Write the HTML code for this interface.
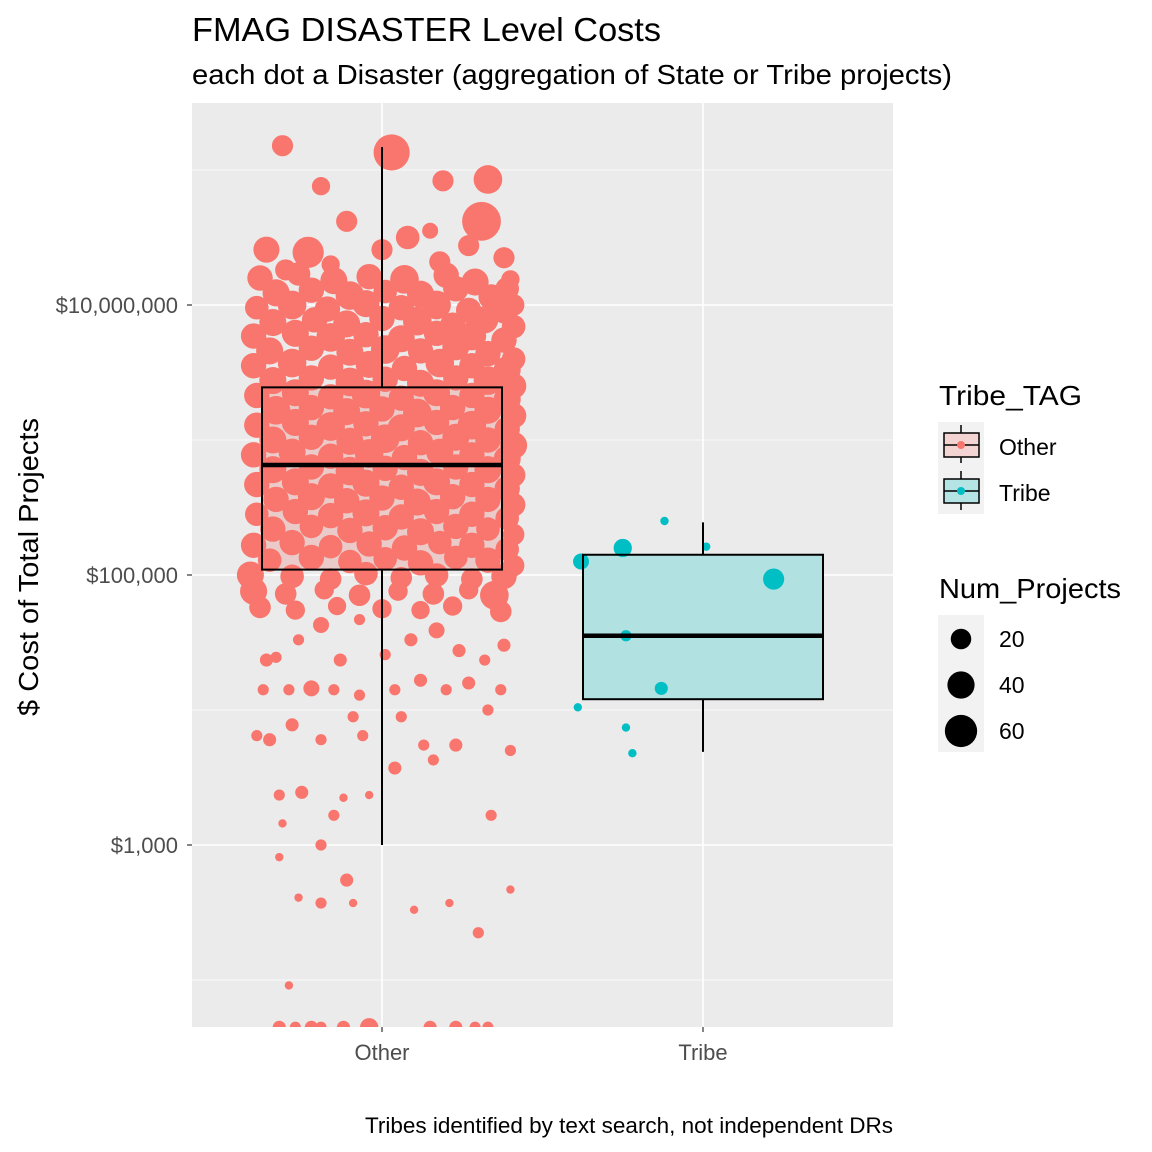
<!DOCTYPE html>
<html><head><meta charset="utf-8"><style>
html,body{margin:0;padding:0;background:#fff;width:1152px;height:1152px;overflow:hidden}
svg text{font-family:"Liberation Sans",Arial,sans-serif}
</style></head><body>
<svg id="chart" width="1152" height="1152" xmlns="http://www.w3.org/2000/svg">
<rect width="1152" height="1152" fill="#fff"/>
<text x="192" y="41" font-size="33" textLength="469" lengthAdjust="spacingAndGlyphs" fill="#000">FMAG DISASTER Level Costs</text>
<text x="192" y="84" font-size="28" textLength="760" lengthAdjust="spacingAndGlyphs" fill="#000">each dot a Disaster (aggregation of State or Tribe projects)</text>
<text transform="translate(38,567) rotate(-90)" text-anchor="middle" font-size="28" textLength="298" lengthAdjust="spacingAndGlyphs" fill="#000">$ Cost of Total Projects</text>
<text x="893" y="1133" text-anchor="end" font-size="22" textLength="528" lengthAdjust="spacingAndGlyphs" fill="#000">Tribes identified by text search, not independent DRs</text>
<defs><clipPath id="pclip"><rect x="192" y="103" width="701" height="924"/></clipPath></defs>
<g id="panel" clip-path="url(#pclip)"></g>
<g id="axes"></g>
<g id="legend">
<text x="939" y="405" font-size="28" textLength="143" lengthAdjust="spacingAndGlyphs">Tribe_TAG</text>
<rect x="938" y="422" width="46" height="92" fill="#f2f2f2"/>
<g>
<line x1="961" y1="425" x2="961" y2="433" stroke="#000" stroke-width="1.5"/><line x1="961" y1="457" x2="961" y2="463" stroke="#000" stroke-width="1.5"/>
<rect x="944" y="433" width="35" height="24" fill="#f4d4d2" stroke="#000" stroke-width="1.5"/><line x1="944" y1="445" x2="979" y2="445" stroke="#000" stroke-width="1.5"/>
<circle cx="961" cy="445" r="4" fill="#F8766D"/>
<text x="999" y="455" font-size="23">Other</text></g>
<g>
<line x1="961" y1="471" x2="961" y2="479" stroke="#000" stroke-width="1.5"/><line x1="961" y1="503" x2="961" y2="510" stroke="#000" stroke-width="1.5"/>
<rect x="944" y="479" width="35" height="24" fill="#b4e4e4" stroke="#000" stroke-width="1.5"/><line x1="944" y1="491" x2="979" y2="491" stroke="#000" stroke-width="1.5"/>
<circle cx="961" cy="491" r="4" fill="#00BFC4"/>
<text x="999" y="501" font-size="23">Tribe</text></g>
<text x="939" y="598" font-size="28" textLength="182" lengthAdjust="spacingAndGlyphs">Num_Projects</text>
<rect x="938" y="615" width="46" height="137" fill="#f2f2f2"/>
<g id="sizeLegend"></g>
</g>
</svg>
<script>
const categories = ["Other","Tribe"];
const yTickValues = [1000, 100000, 10000000];
const yTickLabels = ["$1,000","$100,000","$10,000,000"];
const yMinorLogs = [2,4,6,8];
const boxQ1 = [5.04, 4.08];
const boxMedian = [5.815, 4.55];
const boxQ3 = [6.39, 5.15];
const whiskerLo = [3.0, 3.69];
const whiskerHi = [8.17, 5.39];
const sizeLegendValues = [20,40,60];
// [jitter, log10(cost), num_projects]
const otherPoints = [
[-0.31,8.18,19],[0.03,8.13,69],[-0.19,7.88,13],[0.19,7.92,19],[0.33,7.93,40],[0.31,7.62,81],[-0.11,7.62,19],
[-0.36,7.41,32],[-0.23,7.39,49],[0.0,7.41,19],[0.08,7.50,25],[0.15,7.55,9],[0.27,7.44,19],[0.40,7.19,13],
[-0.30,7.26,19],[-0.16,7.30,13],[0.18,7.32,19],[0.38,7.35,19],
[-0.38,7.20,30],[-0.26,7.23,25],[-0.15,7.18,35],[-0.04,7.21,30],[0.07,7.19,40],[0.2,7.22,30],[0.29,7.17,35],[0.39,7.12,25],
[-0.33,7.09,35],[-0.22,7.11,30],[-0.1,7.07,40],[0.01,7.10,25],[0.12,7.08,35],[0.23,7.12,30],[0.34,7.06,30],[0.41,7.0,20],
[-0.39,6.98,25],[-0.28,7.0,40],[-0.17,6.97,30],[-0.05,7.01,35],[0.06,6.98,30],[0.17,7.0,40],[0.27,6.96,30],[0.38,6.95,25],
[-0.34,6.87,35],[-0.21,6.89,30],[-0.11,6.86,35],[0.0,6.90,30],[0.11,6.88,40],[0.22,6.85,30],[0.32,6.89,35],[0.41,6.84,25],
[-0.4,6.77,30],[-0.27,6.79,35],[-0.16,6.76,40],[-0.05,6.78,30],[0.06,6.75,35],[0.17,6.79,30],[0.28,6.77,40],[0.38,6.74,30],
[-0.35,6.66,35],[-0.22,6.68,30],[-0.1,6.65,35],[0.01,6.67,40],[0.12,6.66,30],[0.23,6.69,35],[0.33,6.64,30],[0.41,6.60,25],
[-0.4,6.55,30],[-0.28,6.57,40],[-0.16,6.54,30],[-0.04,6.56,35],[0.07,6.53,30],[0.18,6.57,40],[0.28,6.55,30],[0.39,6.52,35],
[-0.34,6.44,35],[-0.22,6.46,30],[-0.1,6.43,40],[0.01,6.45,30],[0.12,6.42,35],[0.23,6.46,30],[0.33,6.44,40],[0.41,6.40,30],
[-0.39,6.33,30],[-0.27,6.35,35],[-0.16,6.32,30],[-0.05,6.34,40],[0.06,6.31,30],[0.17,6.35,35],[0.28,6.33,30],[0.39,6.30,35],
[-0.33,6.22,40],[-0.22,6.24,30],[-0.11,6.21,35],[0.0,6.23,30],[0.11,6.20,40],[0.22,6.24,30],[0.33,6.22,35],[0.41,6.18,30],
[-0.39,6.11,30],[-0.27,6.13,35],[-0.16,6.10,40],[-0.05,6.12,30],[0.06,6.09,35],[0.17,6.13,30],[0.28,6.11,40],[0.39,6.08,30],
[-0.34,6.00,35],[-0.22,6.02,30],[-0.1,5.99,35],[0.01,6.01,40],[0.12,5.98,30],[0.23,6.02,35],[0.33,6.00,30],[0.41,5.96,35],
[-0.4,5.89,30],[-0.28,5.91,35],[-0.16,5.88,30],[-0.04,5.90,40],[0.07,5.87,30],[0.18,5.91,35],[0.28,5.89,30],[0.39,5.86,35],
[-0.34,5.78,35],[-0.22,5.80,30],[-0.1,5.77,40],[0.01,5.79,30],[0.12,5.76,35],[0.23,5.80,30],[0.33,5.78,35],[0.41,5.74,25],
[-0.39,5.67,30],[-0.27,5.69,35],[-0.16,5.66,30],[-0.05,5.68,35],[0.06,5.65,30],[0.17,5.69,35],[0.28,5.67,30],[0.39,5.64,30],
[-0.33,5.56,30],[-0.22,5.58,35],[-0.11,5.55,30],[0.0,5.57,30],[0.11,5.54,35],[0.22,5.58,30],[0.33,5.56,30],[0.41,5.52,25],
[-0.39,5.45,25],[-0.27,5.47,30],[-0.16,5.44,30],[-0.05,5.46,35],[0.06,5.43,30],[0.17,5.47,30],[0.28,5.45,30],[0.39,5.42,25],
[-0.34,5.34,30],[-0.22,5.36,25],[-0.1,5.33,30],[0.01,5.35,30],[0.12,5.32,35],[0.23,5.36,30],[0.33,5.34,25],[0.41,5.30,20],
[-0.4,5.22,30],[-0.28,5.24,30],[-0.16,5.21,25],[-0.04,5.23,30],[0.07,5.20,30],[0.18,5.24,25],[0.28,5.22,30],[0.39,5.19,25],
[-0.35,5.11,25],[-0.22,5.13,30],[-0.1,5.10,25],[0.01,5.12,25],[0.12,5.09,30],[0.23,5.13,25],[0.33,5.11,30],[0.41,5.07,20],
[-0.41,5.00,35],[-0.28,4.99,25],[-0.16,4.97,20],[-0.05,5.01,25],[0.06,4.98,20],[0.17,5.00,25],[0.28,4.97,20],[0.38,4.99,30],
[-0.4,4.88,35],[-0.3,4.86,20],[-0.18,4.89,15],[-0.07,4.85,20],[0.05,4.88,15],[0.16,4.86,20],[0.27,4.89,15],[0.35,4.85,40],
[-0.38,4.76,20],[-0.27,4.74,15],[-0.14,4.77,13],[0.0,4.75,15],[0.12,4.74,13],[0.22,4.77,15],[0.37,4.73,20],
[-0.36,4.37,5],[-0.33,4.39,3],[-0.26,4.52,3],[-0.19,4.63,9],[-0.13,4.37,5],[-0.07,4.67,3],[0.01,4.41,3],[0.09,4.52,5],
[0.17,4.59,9],[0.24,4.44,5],[0.32,4.37,3],[0.38,4.48,5],[-0.37,4.15,3],[-0.29,4.15,3],[-0.22,4.16,9],[-0.15,4.15,3],
[-0.07,4.11,3],[0.04,4.15,3],[0.12,4.22,5],[0.20,4.15,3],[0.27,4.20,5],[0.37,4.15,3],[-0.39,3.81,3],[-0.35,3.78,5],
[-0.28,3.89,5],[-0.19,3.78,3],[-0.09,3.95,3],[-0.06,3.81,3],[0.06,3.95,3],[0.13,3.74,3],[0.23,3.74,5],[0.33,4.0,3],
[0.40,3.70,3],[0.04,3.57,5],[0.16,3.63,3],[-0.32,3.37,3],[-0.25,3.39,5],[-0.12,3.35,1],[-0.04,3.37,1],[0.34,3.22,3],
[-0.31,3.16,1],[-0.15,3.22,3],[-0.19,3.0,3],[-0.32,2.91,1],[-0.11,2.74,5],[-0.26,2.61,1],[-0.19,2.57,3],[-0.09,2.57,1],
[0.10,2.52,1],[0.21,2.57,1],[0.30,2.35,3],[0.40,2.67,1],[-0.29,1.96,1],
[-0.32,1.65,5],[-0.27,1.65,3],[-0.22,1.65,5],[-0.19,1.65,3],[-0.12,1.65,5],[-0.04,1.65,13],[0.15,1.65,5],[0.23,1.65,5],[0.29,1.65,3],[0.33,1.65,3]
];
const tribePoints = [
[-0.12,5.40,1],[-0.25,5.20,13],[-0.38,5.10,9],[0.01,5.21,1],[0.22,4.97,19],[-0.24,4.55,3],[-0.13,4.16,5],[-0.39,4.02,1],[-0.24,3.87,1],[-0.22,3.68,1]
];

const NS = "http://www.w3.org/2000/svg";
const P = {l:192, r:893, t:103, b:1027};
const yScale = lg => 305 + (7 - lg) * 135;
const xScale = i => 382 + i * 321;
const xJit = (i, j) => xScale(i) + j * 321;
const rScale = n => 2.3 + 1.9 * Math.sqrt(n);
const catColors = ["#F8766D", "#00BFC4"];
const boxFill = ["#ebcbc9", "#b2e1e2"];
function mk(tag, attrs, parent) {
  const e = document.createElementNS(NS, tag);
  for (const k in attrs) e.setAttribute(k, attrs[k]);
  parent.appendChild(e);
  return e;
}
const panel = document.getElementById('panel');
const axes = document.getElementById('axes');
const bg = mk('rect', {x:P.l, y:P.t, width:P.r-P.l, height:P.b-P.t, fill:'#ebebeb'}, panel);


yMinorLogs.forEach(lg => {
  const l = mk('line', {x1:P.l, x2:P.r, y1:yScale(lg), y2:yScale(lg), stroke:'#fff', 'stroke-width':0.8}, panel);
  
  
});
yTickValues.forEach((v, k) => {
  const y = yScale(Math.log10(v));
  const l = mk('line', {x1:P.l, x2:P.r, y1:y, y2:y, stroke:'#fff', 'stroke-width':1.6}, panel);
  
  
  const t = mk('line', {x1:P.l-5, x2:P.l, y1:y, y2:y, stroke:'#333', 'stroke-width':1.2}, axes);
  
  
  const tx = mk('text', {x:P.l-14, y:y+8, 'text-anchor':'end', 'font-size':22, fill:'#4d4d4d'}, axes);
  tx.textContent = yTickLabels[k];
  
  
});
categories.forEach((c, i) => {
  const x = xScale(i);
  const l = mk('line', {x1:x, x2:x, y1:P.t, y2:P.b, stroke:'#fff', 'stroke-width':1.6}, panel);
  
  
  const t = mk('line', {x1:x, x2:x, y1:P.b, y2:P.b+5, stroke:'#333', 'stroke-width':1.2}, axes);
  
  
  const tx = mk('text', {x:x, y:P.b+33, 'text-anchor':'middle', 'font-size':22, fill:'#4d4d4d'}, axes);
  tx.textContent = c;
  
  
});
const half = 120;
categories.forEach((c, i) => {
  const x = xScale(i);
  const f = mk('rect', {x:x-half, y:yScale(boxQ3[i]), width:2*half, height:yScale(boxQ1[i])-yScale(boxQ3[i]), fill:boxFill[i]}, panel);
  
  
});
[otherPoints, tribePoints].forEach((pts, i) => {
  pts.forEach(p => {
    const ci = mk('circle', {cx:xJit(i, p[0]), cy:yScale(p[1]), r:rScale(p[2]), fill:catColors[i]}, panel);
    
    
  });
});
categories.forEach((c, i) => {
  const x = xScale(i);
  const g = mk('g', {}, panel);
  
  
  mk('line', {x1:x, x2:x, y1:yScale(whiskerHi[i]), y2:yScale(boxQ3[i]), stroke:'#000', 'stroke-width':2}, g);
  mk('line', {x1:x, x2:x, y1:yScale(boxQ1[i]), y2:yScale(whiskerLo[i]), stroke:'#000', 'stroke-width':2}, g);
  mk('rect', {x:x-half, y:yScale(boxQ3[i]), width:2*half, height:yScale(boxQ1[i])-yScale(boxQ3[i]), fill:'none', stroke:'#000', 'stroke-width':2}, g);
  mk('line', {x1:x-half, x2:x+half, y1:yScale(boxMedian[i]), y2:yScale(boxMedian[i]), stroke:'#000', 'stroke-width':4.5}, g);
});
const sl = document.getElementById('sizeLegend');
sizeLegendValues.forEach((n, k) => {
  const y = 639 + k * 46;
  const ci = mk('circle', {cx:961, cy:y, r:rScale(n)*0.95, fill:'#000'}, sl);
  
  
  const t = mk('text', {x:999, y:y+8, 'font-size':23}, sl);
  t.textContent = n;
  
  
});
</script>
</body></html>
